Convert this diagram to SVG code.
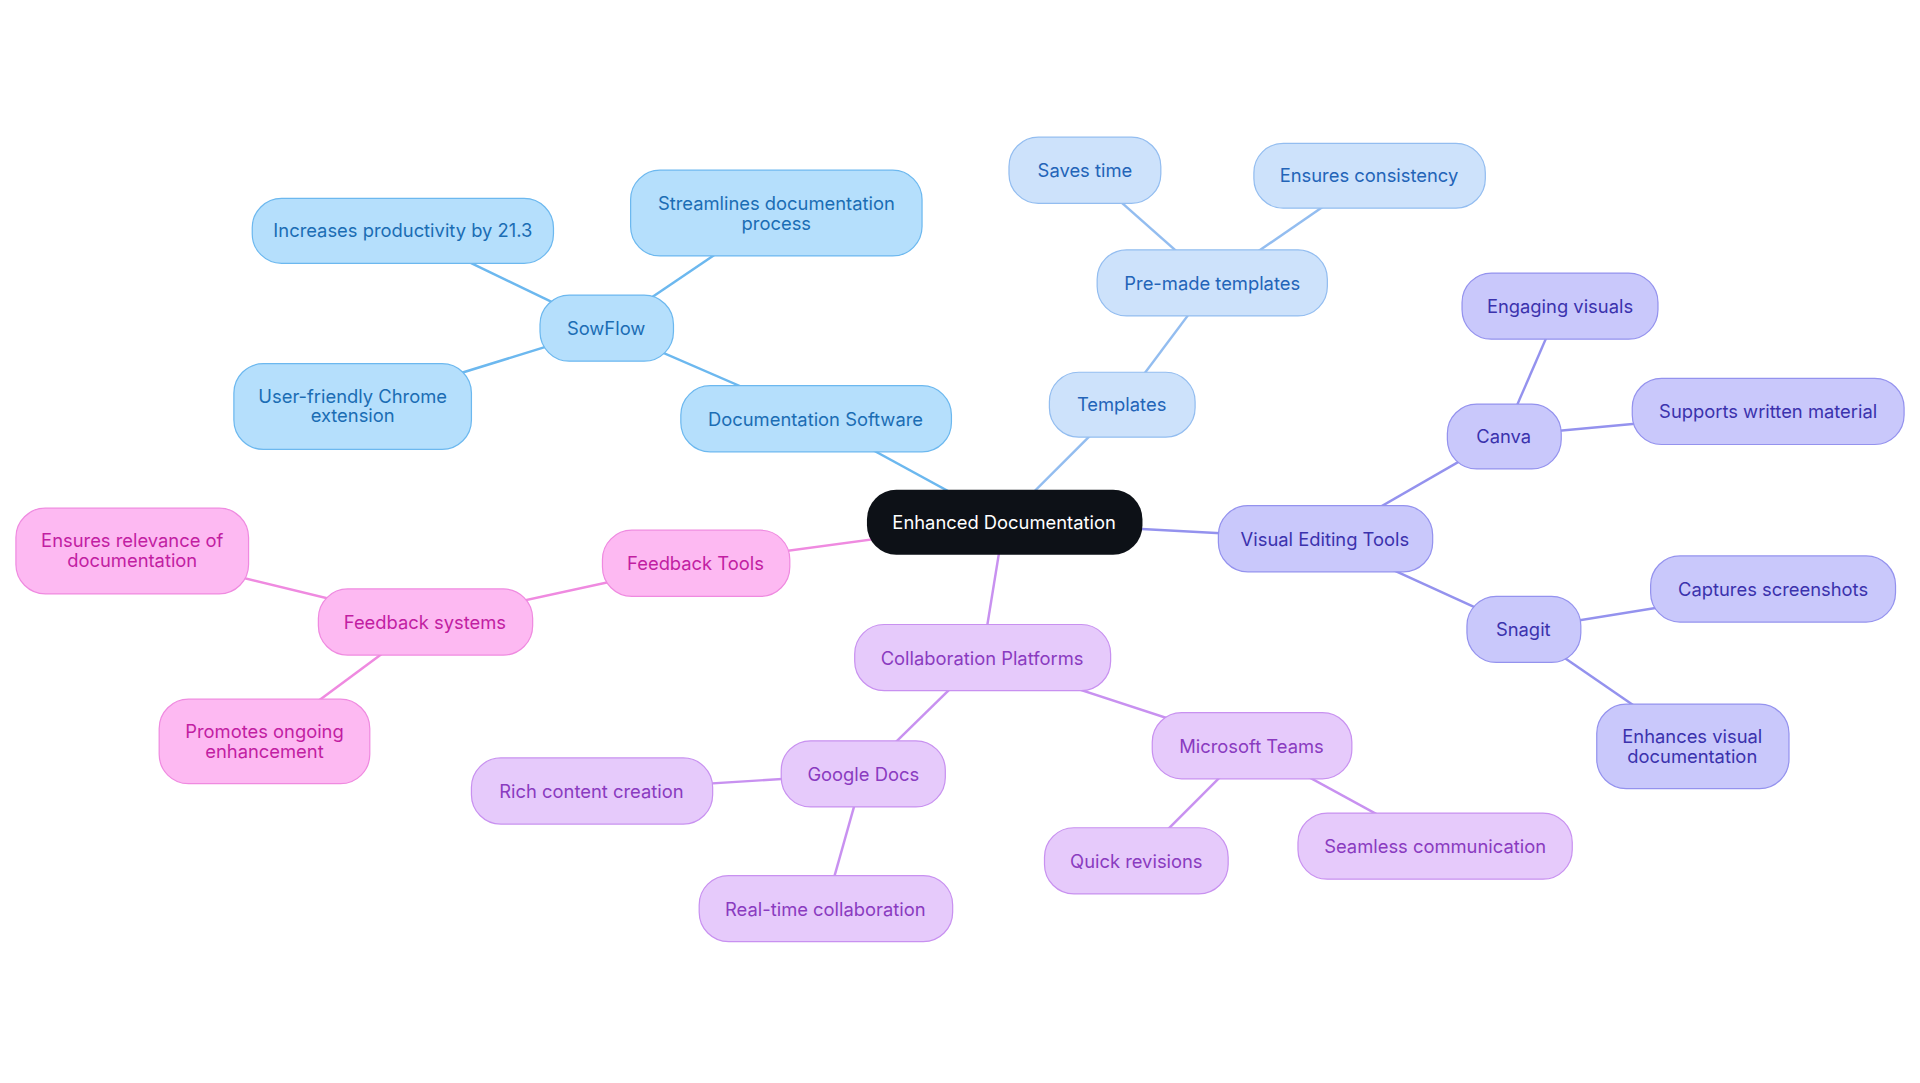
<svg xmlns="http://www.w3.org/2000/svg" width="1920" height="1083" viewBox="0 0 1920 1083">
<style>
text{font-family:Inter,"Open Sans","Liberation Sans",sans-serif;font-size:15px;text-anchor:middle;dominant-baseline:central}
.b rect{fill:#b5dffc;stroke:#6cb8ef;stroke-width:1}.b text{fill:#1b6db4}
.l rect{fill:#cde2fb;stroke:#93bdf0;stroke-width:1}.l text{fill:#2364b8}
.v rect{fill:#c9c8fb;stroke:#9492ee;stroke-width:1}.v text{fill:#3b32ad}
.p rect{fill:#e6cafb;stroke:#c891f0;stroke-width:1}.p text{fill:#8a3bc0}
.k rect{fill:#fdb9f2;stroke:#ef8ae0;stroke-width:1}.k text{fill:#c21ea2}
#edges line{stroke-width:2}
</style>
<rect width="1920" height="1083" fill="#fff"/>
<g transform="scale(1.2245)">
<g id="edges">
<line x1="820" y1="426" x2="666" y2="342" stroke="#6cb8ef"/>
<line x1="666" y1="342" x2="495" y2="268" stroke="#6cb8ef"/>
<line x1="495" y1="268" x2="329" y2="188" stroke="#6cb8ef"/>
<line x1="495" y1="268" x2="634" y2="174" stroke="#6cb8ef"/>
<line x1="495" y1="268" x2="288" y2="332" stroke="#6cb8ef"/>
<line x1="820" y1="426" x2="916" y2="330" stroke="#93bdf0"/>
<line x1="916" y1="330" x2="990" y2="231" stroke="#93bdf0"/>
<line x1="990" y1="231" x2="886" y2="139" stroke="#93bdf0"/>
<line x1="990" y1="231" x2="1118" y2="143" stroke="#93bdf0"/>
<line x1="820" y1="426" x2="1082" y2="440" stroke="#9492ee"/>
<line x1="1082" y1="440" x2="1228" y2="356" stroke="#9492ee"/>
<line x1="1228" y1="356" x2="1274" y2="250" stroke="#9492ee"/>
<line x1="1228" y1="356" x2="1444" y2="336" stroke="#9492ee"/>
<line x1="1082" y1="440" x2="1244" y2="514" stroke="#9492ee"/>
<line x1="1244" y1="514" x2="1448" y2="481" stroke="#9492ee"/>
<line x1="1244" y1="514" x2="1382" y2="609" stroke="#9492ee"/>
<line x1="820" y1="426" x2="802" y2="537" stroke="#c891f0"/>
<line x1="802" y1="537" x2="705" y2="632" stroke="#c891f0"/>
<line x1="705" y1="632" x2="483" y2="646" stroke="#c891f0"/>
<line x1="705" y1="632" x2="674" y2="742" stroke="#c891f0"/>
<line x1="802" y1="537" x2="1022" y2="609" stroke="#c891f0"/>
<line x1="1022" y1="609" x2="928" y2="703" stroke="#c891f0"/>
<line x1="1022" y1="609" x2="1172" y2="691" stroke="#c891f0"/>
<line x1="820" y1="426" x2="568" y2="460" stroke="#ef8ae0"/>
<line x1="568" y1="460" x2="347" y2="508" stroke="#ef8ae0"/>
<line x1="347" y1="508" x2="108" y2="450" stroke="#ef8ae0"/>
<line x1="347" y1="508" x2="216" y2="605" stroke="#ef8ae0"/>
</g>
<g id="root"><rect x="708" y="400" width="225" height="53" rx="24" fill="#0d1117"/><text x="820" y="426" fill="#fff">Enhanced Documentation</text></g>
<g id="docsw" class="b"><rect x="556" y="315" width="221" height="54" rx="24"/><text x="666" y="342">Documentation Software</text></g>
<g id="sowflow" class="b"><rect x="441" y="241" width="109" height="54" rx="24"/><text x="495" y="268">SowFlow</text></g>
<g id="prod" class="b"><rect x="206" y="162" width="246" height="53" rx="24"/><text x="329" y="188">Increases productivity by 21.3</text></g>
<g id="stream" class="b"><rect x="515" y="139" width="238" height="70" rx="24"/><text x="634" y="166">Streamlines documentation</text><text x="634" y="182">process</text></g>
<g id="chrome" class="b"><rect x="191" y="297" width="194" height="70" rx="24"/><text x="288" y="323">User-friendly Chrome</text><text x="288" y="339">extension</text></g>
<g id="templates" class="l"><rect x="857" y="304" width="119" height="53" rx="24"/><text x="916" y="330">Templates</text></g>
<g id="premade" class="l"><rect x="896" y="204" width="188" height="54" rx="24"/><text x="990" y="231">Pre-made templates</text></g>
<g id="saves" class="l"><rect x="824" y="112" width="124" height="54" rx="24"/><text x="886" y="139">Saves time</text></g>
<g id="consist" class="l"><rect x="1024" y="117" width="189" height="53" rx="24"/><text x="1118" y="143">Ensures consistency</text></g>
<g id="visual" class="v"><rect x="995" y="413" width="175" height="54" rx="24"/><text x="1082" y="440">Visual Editing Tools</text></g>
<g id="canva" class="v"><rect x="1182" y="330" width="93" height="53" rx="24"/><text x="1228" y="356">Canva</text></g>
<g id="engaging" class="v"><rect x="1194" y="223" width="160" height="54" rx="24"/><text x="1274" y="250">Engaging visuals</text></g>
<g id="supports" class="v"><rect x="1333" y="309" width="222" height="54" rx="24"/><text x="1444" y="336">Supports written material</text></g>
<g id="snagit" class="v"><rect x="1198" y="487" width="93" height="54" rx="24"/><text x="1244" y="514">Snagit</text></g>
<g id="captures" class="v"><rect x="1348" y="454" width="200" height="54" rx="24"/><text x="1448" y="481">Captures screenshots</text></g>
<g id="enhances" class="v"><rect x="1304" y="575" width="157" height="69" rx="24"/><text x="1382" y="601">Enhances visual</text><text x="1382" y="617">documentation</text></g>
<g id="collab" class="p"><rect x="698" y="510" width="209" height="54" rx="24"/><text x="802" y="537">Collaboration Platforms</text></g>
<g id="gdocs" class="p"><rect x="638" y="605" width="134" height="54" rx="24"/><text x="705" y="632">Google Docs</text></g>
<g id="rich" class="p"><rect x="385" y="619" width="197" height="54" rx="24"/><text x="483" y="646">Rich content creation</text></g>
<g id="realtime" class="p"><rect x="571" y="715" width="207" height="54" rx="24"/><text x="674" y="742">Real-time collaboration</text></g>
<g id="teams" class="p"><rect x="941" y="582" width="163" height="54" rx="24"/><text x="1022" y="609">Microsoft Teams</text></g>
<g id="quick" class="p"><rect x="853" y="676" width="150" height="54" rx="24"/><text x="928" y="703">Quick revisions</text></g>
<g id="seamless" class="p"><rect x="1060" y="664" width="224" height="54" rx="24"/><text x="1172" y="691">Seamless communication</text></g>
<g id="feedback" class="k"><rect x="492" y="433" width="153" height="54" rx="24"/><text x="568" y="460">Feedback Tools</text></g>
<g id="fsys" class="k"><rect x="260" y="481" width="175" height="54" rx="24"/><text x="347" y="508">Feedback systems</text></g>
<g id="relevance" class="k"><rect x="13" y="415" width="190" height="70" rx="24"/><text x="108" y="441">Ensures relevance of</text><text x="108" y="457">documentation</text></g>
<g id="promotes" class="k"><rect x="130" y="571" width="172" height="69" rx="24"/><text x="216" y="597">Promotes ongoing</text><text x="216" y="613">enhancement</text></g>
</g>
</svg>
